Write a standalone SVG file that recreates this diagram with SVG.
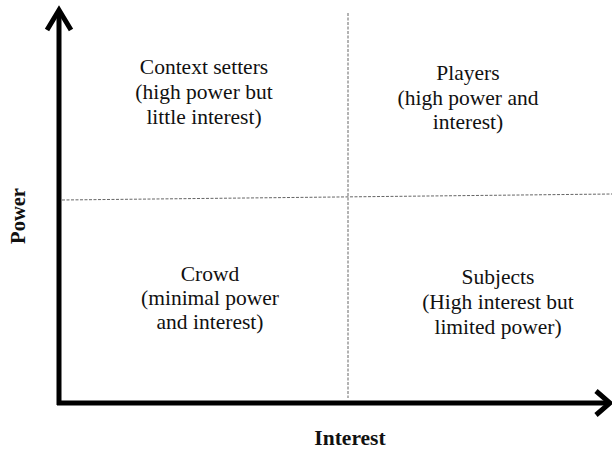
<svg xmlns="http://www.w3.org/2000/svg" width="612" height="451" viewBox="0 0 612 451">
<style>
.q{font-family:"Liberation Serif","Times New Roman",serif;font-size:21.5px;fill:#111;text-anchor:middle}
.ax{font-family:"Liberation Serif","Times New Roman",serif;font-weight:bold;fill:#111;text-anchor:middle}
.axis{stroke:#000;stroke-width:5;fill:none;stroke-linejoin:miter}
.dash{stroke:#666;stroke-width:1;stroke-dasharray:3,1.5;fill:none}
</style>
<rect width="612" height="451" fill="#fff"/>
<g id="connectors">
<line class="dash" x1="348" y1="13" x2="348" y2="398"/>
<line class="dash" x1="62" y1="200" x2="612" y2="194"/>
<line class="axis" x1="59" y1="12" x2="59" y2="405"/>
<line class="axis" x1="57" y1="403" x2="608" y2="403"/>
<polyline class="axis" points="47,30 59,10 71,30"/>
<polyline class="axis" points="596,391 610,403 596,415"/>
</g>
<g id="context-setters">
<text class="q" x="204" y="74">Context setters</text>
<text class="q" x="204" y="99">(high power but</text>
<text class="q" x="204" y="124">little interest)</text>
</g>
<g id="players">
<text class="q" x="468" y="80">Players</text>
<text class="q" x="468" y="105">(high power and</text>
<text class="q" x="468" y="129">interest)</text>
</g>
<g id="crowd">
<text class="q" x="210" y="281">Crowd</text>
<text class="q" x="210" y="305">(minimal power</text>
<text class="q" x="210" y="329">and interest)</text>
</g>
<g id="subjects">
<text class="q" x="498" y="284">Subjects</text>
<text class="q" x="498" y="309">(High interest but</text>
<text class="q" x="498" y="334">limited power)</text>
</g>
<g id="power-label">
<text class="ax" font-size="20.5" transform="translate(25,216) rotate(-90)">Power</text>
</g>
<g id="interest-label">
<text class="ax" font-size="21.5" x="350" y="445">Interest</text>
</g>
</svg>
